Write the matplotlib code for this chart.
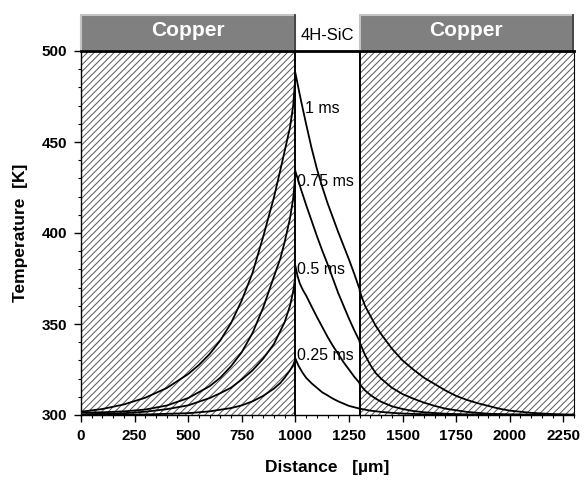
import matplotlib
matplotlib.use("Agg")
import matplotlib.pyplot as plt
from matplotlib.patches import Rectangle

plt.rcParams['font.family'] = ['Liberation Sans', 'DejaVu Sans']
plt.rcParams['hatch.linewidth'] = 0.7

# ---------------- data ----------------
time_labels = ["1 ms", "0.75 ms", "0.5 ms", "0.25 ms"]

# left copper region (0-1000 um)
x_cu_left_1 = [0, 100, 200, 300, 400, 500, 550, 600, 650, 700, 750, 800, 850, 900, 930, 950, 975, 990, 1000]
t_cu_left_1 = [301.8, 303.3, 305.8, 309.5, 314.8, 322.5, 327.5, 333.5, 341, 350.5, 363, 378, 398, 419.5, 434.6, 445, 458, 470, 486]
x_cu_left_2 = [0, 100, 200, 300, 400, 500, 600, 650, 700, 750, 800, 850, 900, 930, 950, 975, 990, 1000]
t_cu_left_2 = [301.3, 301.5, 302.0, 303.0, 305.2, 309.3, 315.8, 320.5, 326.8, 334.5, 345, 359, 376, 386, 395, 408, 419, 432]
x_cu_left_3 = [0, 200, 300, 400, 500, 600, 650, 700, 750, 800, 850, 900, 950, 975, 990, 1000]
t_cu_left_3 = [300.3, 301.0, 301.8, 303.2, 305.3, 309.3, 312, 315, 319.5, 324.5, 331, 339, 351, 360, 368, 376]
x_cu_left_4 = [0, 300, 500, 600, 700, 750, 800, 850, 900, 930, 950, 975, 990, 1000]
t_cu_left_4 = [300.1, 300.3, 301.0, 302.0, 303.8, 305.3, 307.5, 310.5, 314.5, 317.6, 320.5, 324.5, 327.5, 330.5]

# 4H-SiC region (1000-1300 um)
x_sic_1 = [1000, 1025, 1050, 1075, 1100, 1125, 1150, 1175, 1200, 1225, 1250, 1275, 1300]
t_sic_1 = [488, 473.5, 460, 447, 435.5, 425.5, 416.5, 408.5, 400.5, 393, 385.5, 377.5, 369]
x_sic_2 = [1000, 1025, 1050, 1075, 1100, 1125, 1150, 1175, 1200, 1225, 1250, 1275, 1300]
t_sic_2 = [434, 424.5, 415.5, 407, 398.5, 390.5, 383, 375, 367, 360, 353, 346.5, 340.5]
x_sic_3 = [1000, 1010, 1020, 1035, 1050, 1075, 1100, 1125, 1150, 1175, 1200, 1225, 1250, 1275, 1300]
t_sic_3 = [382, 376.5, 372.5, 368.7, 365.7, 359.8, 354, 348.5, 343, 338, 333.5, 329, 325, 321, 317.5]
x_sic_4 = [1000, 1015, 1035, 1050, 1075, 1100, 1125, 1150, 1175, 1200, 1250, 1300]
t_sic_4 = [331, 327, 323, 320.5, 317.5, 315, 312.5, 310.8, 309, 307.5, 305, 303.5]

# right copper region (1300-2300 um)
x_cu_right_1 = [1300, 1325, 1350, 1375, 1400, 1450, 1500, 1550, 1600, 1650, 1700, 1750, 1800, 1850, 1900, 1950, 2000, 2100, 2200, 2300]
t_cu_right_1 = [368, 360, 354.5, 349, 344.5, 336.5, 330, 325, 320.5, 317, 313.5, 310.5, 308.3, 306.5, 305, 303.5, 302.4, 301.2, 300.5, 300.2]
x_cu_right_2 = [1300, 1325, 1350, 1375, 1400, 1450, 1500, 1550, 1600, 1650, 1700, 1800, 1900, 2000, 2300]
t_cu_right_2 = [340, 333, 327.5, 323, 320, 315, 311.5, 309, 306.8, 305, 303.5, 301.7, 300.7, 300.3, 300.0]
x_cu_right_3 = [1300, 1325, 1350, 1375, 1400, 1450, 1500, 1550, 1600, 1700, 1800, 2300]
t_cu_right_3 = [317, 313.5, 311, 309, 307.3, 304.8, 303.3, 302.2, 301.5, 300.7, 300.3, 300.0]
x_cu_right_4 = [1300, 1350, 1400, 1450, 1500, 1600, 1800, 2300]
t_cu_right_4 = [303.5, 302.4, 301.7, 301.2, 300.8, 300.4, 300.1, 300.0]

label_x = [1045, 1008, 1008, 1008]
label_t = [468.5, 428.5, 380, 332.5]

x_ticks = [0, 250, 500, 750, 1000, 1250, 1500, 1750, 2000, 2250]
y_ticks = [300, 350, 400, 450, 500]

left_curves = [(x_cu_left_1, t_cu_left_1), (x_cu_left_2, t_cu_left_2),
               (x_cu_left_3, t_cu_left_3), (x_cu_left_4, t_cu_left_4)]
sic_curves = [(x_sic_1, t_sic_1), (x_sic_2, t_sic_2),
              (x_sic_3, t_sic_3), (x_sic_4, t_sic_4)]
right_curves = [(x_cu_right_1, t_cu_right_1), (x_cu_right_2, t_cu_right_2),
                (x_cu_right_3, t_cu_right_3), (x_cu_right_4, t_cu_right_4)]

# ---------------- figure ----------------
fig = plt.figure(figsize=(5.84, 4.84), dpi=100)
ax = fig.add_axes([81 / 584, 1 - 415 / 484, 493 / 584, 364 / 484])
ax.set_xlim(0, 2300)
ax.set_ylim(300, 500)

# hatched copper regions
for x0, x1 in [(0, 1000), (1300, 2300)]:
    ax.add_patch(Rectangle((x0, 300), x1 - x0, 200, facecolor='white',
                           edgecolor='#555555', linewidth=0, hatch='/////', zorder=0))

# interface lines
ax.axvline(1000, color='black', lw=1.4, zorder=3)
ax.axvline(1300, color='black', lw=1.4, zorder=3)

for group in (left_curves, sic_curves, right_curves):
    for xs, ts in group:
        ax.plot(xs, ts, color='black', lw=1.3, zorder=2, solid_joinstyle='round')

for lab, lx, lt in zip(time_labels, label_x, label_t):
    ax.text(lx, lt, lab, fontsize=11.5, ha='left', va='center', color='black', zorder=4)

# material header boxes above the plot
for x0, x1 in [(0, 1000), (1300, 2295)]:
    ax.add_patch(Rectangle((x0, 500), x1 - x0, 20, facecolor='#808080',
                           edgecolor='#c4c4c4', linewidth=1.5, clip_on=False, zorder=5))
    ax.plot([x1, x1], [500, 520], color='#303030', lw=1.2, clip_on=False, zorder=6)
    ax.text((x0 + x1) / 2, 511, "Copper", color='white', fontsize=15,
            fontweight='bold', ha='center', va='center', clip_on=False, zorder=7)
ax.text(1150, 508.5, "4H-SiC", color='black', fontsize=12, ha='center',
        va='center', clip_on=False, zorder=7)

# spines
ax.spines['top'].set_linewidth(2.0)
ax.spines['top'].set_zorder(8)
for s in ['left', 'bottom']:
    ax.spines[s].set_linewidth(1.0)
ax.spines['right'].set_linewidth(0.8)

ax.set_xticks(x_ticks)
ax.set_yticks(y_ticks)
ax.set_xticks(range(0, 2301, 50), minor=True)
ax.set_yticks(range(300, 501, 10), minor=True)
ax.tick_params(which='major', direction='out', length=5, width=1, pad=5,
               labelsize=11, top=False, right=False)
ax.tick_params(which='minor', direction='out', length=2.5, width=0.8,
               top=False, right=False)
for lab in ax.get_xticklabels() + ax.get_yticklabels():
    lab.set_fontweight('bold')

ax.set_xlabel("Distance   [µm]", fontsize=12.5, fontweight='bold', labelpad=12)
ax.set_ylabel("Temperature  [K]", fontsize=12.5, fontweight='bold', labelpad=10)

fig.savefig("out.png", dpi=100)
